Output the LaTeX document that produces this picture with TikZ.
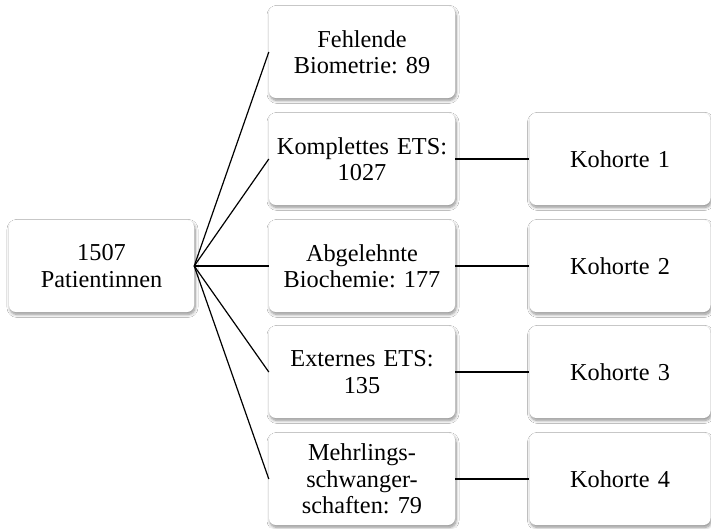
\documentclass[tikz,border=0pt]{standalone}
\usepackage{fontspec}
\setmainfont{Liberation Serif}
\usetikzlibrary{shadows.blur}
\frenchspacing
\begin{document}
\begin{tikzpicture}[x=1pt,y=-1pt,
  box/.style={rounded corners=7pt, fill=white, draw=none,
    blur shadow={shadow xshift=1pt, shadow yshift=-2.4pt, shadow blur radius=3pt, shadow opacity=45, shadow blur steps=8},
    minimum height=92pt, align=center, inner sep=2pt,
    font=\fontsize{24.3pt}{26.5pt}\selectfont},
  midbox/.style={box, minimum width=186pt, text width=182pt},
  leftbox/.style={box, minimum width=185pt, text width=181pt},
  rightbox/.style={box, minimum width=181pt, text width=177pt},
  conn/.style={draw=black, line width=1.2pt}]
\useasboundingbox (0,0) rectangle (711,528);
\fill[white] (0,0) rectangle (711,528);
\node[leftbox] (p) at (101.5,266) {1507\\Patientinnen};
\node[midbox] (m1) at (362,52) {Fehlende\\Biometrie: 89};
\node[midbox] (m2) at (362,159) {Komplettes ETS:\\1027};
\node[midbox] (m3) at (362,266) {Abgelehnte\\Biochemie: 177};
\node[midbox] (m4) at (362,372) {Externes ETS:\\135};
\node[midbox] (m5) at (362,479) {Mehrlings-\\schwanger-\\schaften: 79};
\node[rightbox] (k1) at (620,159) {Kohorte 1};
\node[rightbox] (k2) at (620,266) {Kohorte 2};
\node[rightbox] (k3) at (620,372) {Kohorte 3};
\node[rightbox] (k4) at (620,479) {Kohorte 4};
\foreach \m in {m1,m2,m3,m4,m5} \draw[conn] (p.east) -- (\m.west);
\draw[conn] (m2.east) -- (k1.west);
\draw[conn] (m3.east) -- (k2.west);
\draw[conn] (m4.east) -- (k3.west);
\draw[conn] (m5.east) -- (k4.west);
\end{tikzpicture}
\end{document}
